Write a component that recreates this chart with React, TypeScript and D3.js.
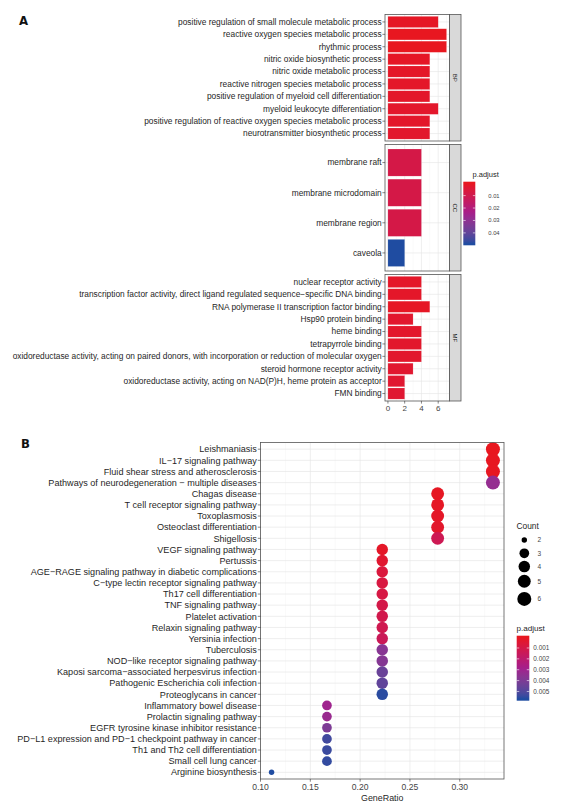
import React from "react";
import * as d3 from "d3";

// ---------------- Panel A data (GO enrichment, bar chart) ----------------
const bpTerms = [
  "positive regulation of small molecule metabolic process",
  "reactive oxygen species metabolic process",
  "rhythmic process",
  "nitric oxide biosynthetic process",
  "nitric oxide metabolic process",
  "reactive nitrogen species metabolic process",
  "positive regulation of myeloid cell differentiation",
  "myeloid leukocyte differentiation",
  "positive regulation of reactive oxygen species metabolic process",
  "neurotransmitter biosynthetic process",
];
const bpCounts = [6, 7, 7, 5, 5, 5, 5, 6, 5, 5];
const bpPadj = [0.0012, 0.0003, 0.0001, 0.0014, 0.0016, 0.0018, 0.0021, 0.0024, 0.0023, 0.0026];

const ccTerms = ["membrane raft", "membrane microdomain", "membrane region", "caveola"];
const ccCounts = [4, 4, 4, 2];
const ccPadj = [0.0082, 0.0082, 0.0082, 0.0487];

const mfTerms = [
  "nuclear receptor activity",
  "transcription factor activity, direct ligand regulated sequence\u2212specific DNA binding",
  "RNA polymerase II transcription factor binding",
  "Hsp90 protein binding",
  "heme binding",
  "tetrapyrrole binding",
  "oxidoreductase activity, acting on paired donors, with incorporation or reduction of molecular oxygen",
  "steroid hormone receptor activity",
  "oxidoreductase activity, acting on NAD(P)H, heme protein as acceptor",
  "FMN binding",
];
const mfCounts = [4, 4, 5, 3, 4, 4, 4, 3, 2, 2];
const mfPadj = [0.0018, 0.0019, 0.0011, 0.0028, 0.0024, 0.0025, 0.0027, 0.0032, 0.0035, 0.0036];

const facetNames = ["BP", "CC", "MF"];
const aCountTicks = [0, 2, 4, 6];
const aPadjTicks = [0.01, 0.02, 0.03, 0.04];

// ---------------- Panel B data (KEGG enrichment, dot plot) ----------------
const keggTerms = [
  "Leishmaniasis",
  "IL\u221217 signaling pathway",
  "Fluid shear stress and atherosclerosis",
  "Pathways of neurodegeneration \u2212 multiple diseases",
  "Chagas disease",
  "T cell receptor signaling pathway",
  "Toxoplasmosis",
  "Osteoclast differentiation",
  "Shigellosis",
  "VEGF signaling pathway",
  "Pertussis",
  "AGE\u2212RAGE signaling pathway in diabetic complications",
  "C\u2212type lectin receptor signaling pathway",
  "Th17 cell differentiation",
  "TNF signaling pathway",
  "Platelet activation",
  "Relaxin signaling pathway",
  "Yersinia infection",
  "Tuberculosis",
  "NOD\u2212like receptor signaling pathway",
  "Kaposi sarcoma\u2212associated herpesvirus infection",
  "Pathogenic Escherichia coli infection",
  "Proteoglycans in cancer",
  "Inflammatory bowel disease",
  "Prolactin signaling pathway",
  "EGFR tyrosine kinase inhibitor resistance",
  "PD\u2212L1 expression and PD\u22121 checkpoint pathway in cancer",
  "Th1 and Th2 cell differentiation",
  "Small cell lung cancer",
  "Arginine biosynthesis",
];
const keggRatio = [
  0.3333, 0.3333, 0.3333, 0.3333,
  0.2778, 0.2778, 0.2778, 0.2778, 0.2778,
  0.2222, 0.2222, 0.2222, 0.2222, 0.2222, 0.2222, 0.2222, 0.2222, 0.2222, 0.2222, 0.2222, 0.2222, 0.2222, 0.2222,
  0.1667, 0.1667, 0.1667, 0.1667, 0.1667, 0.1667,
  0.1111,
];
const keggCounts = [6, 6, 6, 6, 5, 5, 5, 5, 5, 4, 4, 4, 4, 4, 4, 4, 4, 4, 4, 4, 4, 4, 4, 3, 3, 3, 3, 3, 3, 2];
const keggPadj = [
  0.00002, 0.00005, 0.00008, 0.0033,
  0.0001, 0.00015, 0.0002, 0.0003, 0.0013,
  0.0002, 0.0004, 0.0007, 0.0008, 0.0009, 0.001, 0.0011, 0.0012, 0.0014, 0.0037, 0.0038, 0.0045, 0.0047, 0.0056,
  0.003, 0.0032, 0.004, 0.0053, 0.0054, 0.0055,
  0.0057,
];
const bRatioTicks = [0.1, 0.15, 0.2, 0.25, 0.3];
const bRatioMinor = [0.125, 0.175, 0.225, 0.275, 0.325];
const bCountLevels = [2, 3, 4, 5, 6];
const bPadjTicks = [0.001, 0.002, 0.003, 0.004, 0.005];

// ---------------- styling ----------------
const FONT = "'Liberation Sans', Arial, Helvetica, sans-serif";
const RED = "#E8171F";
const MID = "#A41E8D";
const BLUE = "#1F4CA1";
const GRID = "#E4E4E4";
const GRID_MINOR = "#F1F1F1";
const BORDER = "#555555";
const TEXT = "#1F1F1F";

function colorScale(lo: number, hi: number) {
  return d3
    .scaleLinear<string>()
    .domain([lo, (lo + hi) / 2, hi])
    .range([RED, MID, BLUE])
    .interpolate(d3.interpolateLab);
}

// ggplot-like colourbar (nbin = 20)
function ColorBar(props: {
  id: string; x: number; y: number; w: number; h: number;
  lo: number; hi: number; ticks: number[]; fmt: (v: number) => string;
  labelX: number; fontSize: number; titleSize: number; title: string; titleX: number; titleY: number;
}) {
  const { id, x, y, w, h, lo, hi, ticks, fmt, labelX, fontSize, titleSize, title, titleX, titleY } = props;
  const col = colorScale(lo, hi);
  const nbin = 20;
  const stops = d3.range(nbin).map((i) => ({ off: (i + 0.5) / nbin, c: col(lo + (i / (nbin - 1)) * (hi - lo)) }));
  const pos = (v: number) => y + ((0.5 + ((nbin - 1) * (v - lo)) / (hi - lo)) / nbin) * h;
  return (
    <g>
      <defs>
        <linearGradient id={id} x1="0" y1="0" x2="0" y2="1">
          {stops.map((s, i) => (
            <stop key={i} offset={s.off} stopColor={s.c} />
          ))}
        </linearGradient>
      </defs>
      <text x={titleX} y={titleY} fontSize={titleSize} fill={TEXT} fontFamily={FONT}>{title}</text>
      <rect x={x} y={y} width={w} height={h} fill={`url(#${id})`} />
      {ticks.map((t) => (
        <g key={t}>
          <line x1={x} x2={x + w * 0.2} y1={pos(t)} y2={pos(t)} stroke="#fff" strokeWidth={0.6} />
          <line x1={x + w * 0.8} x2={x + w} y1={pos(t)} y2={pos(t)} stroke="#fff" strokeWidth={0.6} />
          <text x={labelX} y={pos(t)} dy="0.35em" fontSize={fontSize} fill="#444" fontFamily={FONT}>{fmt(t)}</text>
        </g>
      ))}
    </g>
  );
}

function PanelA() {
  const facets = [
    { terms: bpTerms, counts: bpCounts, p: bpPadj },
    { terms: ccTerms, counts: ccCounts, p: ccPadj },
    { terms: mfTerms, counts: mfCounts, p: mfPadj },
  ];
  const allP = [...bpPadj, ...ccPadj, ...mfPadj];
  const lo = d3.min(allP)!;
  const hi = d3.max(allP)!;
  const col = colorScale(lo, hi);
  const maxCount = d3.max([...bpCounts, ...ccCounts, ...mfCounts])!;
  const left = 385;
  const right = 449.5;
  const pad = maxCount * 0.05;
  const x = d3.scaleLinear().domain([-pad, maxCount + pad]).range([left, right]);
  const top = 14.5;
  const panelH = 126.5;
  const gap = 3.5;
  const stripW = 11.5;
  const fs = 8.35;
  const minorTicks = d3.range(1, maxCount + 1, 2);

  return (
    <g>
      <text x={19} y={25} fontSize={13} fontWeight="bold" fontFamily="'Liberation Sans Narrow', 'DejaVu Sans Condensed', Arial, sans-serif" fill="#111">A</text>
      {facets.map((f, fi) => {
        const y0 = top + fi * (panelH + gap);
        const y1 = y0 + panelH;
        const y = d3.scalePoint<string>().domain(f.terms).range([y0, y1]).padding(0.6);
        const bw = y.step() * 0.9;
        return (
          <g key={fi}>
            <rect x={left} y={y0} width={right - left} height={panelH} fill="#fff" />
            {minorTicks.map((t) => (
              <line key={"m" + t} x1={x(t)} x2={x(t)} y1={y0} y2={y1} stroke={GRID_MINOR} strokeWidth={0.4} />
            ))}
            {aCountTicks.map((t) => (
              <line key={"g" + t} x1={x(t)} x2={x(t)} y1={y0} y2={y1} stroke={GRID} strokeWidth={0.6} />
            ))}
            {f.terms.map((t) => (
              <line key={"h" + t} x1={left} x2={right} y1={y(t)!} y2={y(t)!} stroke={GRID} strokeWidth={0.6} />
            ))}
            {f.terms.map((t, i) => (
              <rect key={"b" + t} x={x(0)} y={y(t)! - bw / 2} width={x(f.counts[i]) - x(0)} height={bw} fill={col(f.p[i])} stroke="#fff" strokeOpacity={0.35} strokeWidth={0.4} />
            ))}
            <rect x={left} y={y0} width={right - left} height={panelH} fill="none" stroke={BORDER} strokeWidth={0.8} />
            {f.terms.map((t) => (
              <g key={"l" + t}>
                <line x1={left - 2.6} x2={left} y1={y(t)!} y2={y(t)!} stroke="#333" strokeWidth={0.6} />
                <text x={left - 3.3} y={y(t)!} dy="0.35em" textAnchor="end" fontSize={fs} fill={TEXT} fontFamily={FONT}>{t}</text>
              </g>
            ))}
            <rect x={right} y={y0} width={stripW} height={panelH} fill="#D9D9D9" stroke={BORDER} strokeWidth={0.8} />
            <text
              transform={`translate(${right + stripW / 2},${(y0 + y1) / 2}) rotate(90)`}
              textAnchor="middle"
              dy="0.35em"
              fontSize={6}
              fill="#222"
              fontFamily={FONT}
            >
              {facetNames[fi]}
            </text>
          </g>
        );
      })}
      {aCountTicks.map((t) => {
        const yb = top + 3 * panelH + 2 * gap;
        return (
          <g key={"xt" + t}>
            <line x1={x(t)} x2={x(t)} y1={yb} y2={yb + 2.6} stroke="#333" strokeWidth={0.6} />
            <text x={x(t)} y={yb + 9.8} textAnchor="middle" fontSize={8} fill="#444" fontFamily={FONT}>{t}</text>
          </g>
        );
      })}
      <ColorBar
        id="gradA" x={463.3} y={181.7} w={12} h={63.6} lo={lo} hi={hi} ticks={aPadjTicks}
        fmt={(v) => d3.format(".2f")(v)} labelX={488.3} fontSize={5.8} titleSize={7.5} title="p.adjust" titleX={472.5} titleY={177}
      />
    </g>
  );
}

function PanelB() {
  const left = 260.5;
  const right = 504;
  const top = 442.5;
  const bottom = 779;
  const rMin = d3.min(keggRatio)!;
  const rMax = d3.max(keggRatio)!;
  const ex = (rMax - rMin) * 0.05;
  const x = d3.scaleLinear().domain([rMin - ex, rMax + ex]).range([left, right]);
  const y = d3.scalePoint<string>().domain(keggTerms).range([top, bottom]).padding(0.6);
  const lo = d3.min(keggPadj)!;
  const hi = d3.max(keggPadj)!;
  const col = colorScale(lo, hi);
  const cMin = d3.min(keggCounts)!;
  const cMax = d3.max(keggCounts)!;
  const sizeT = d3.scaleLinear().domain([cMin, cMax]).range([0, 1]);
  const rad = (c: number) => 2.7 + 4.3 * Math.sqrt(sizeT(c));
  const fs = 9.1;

  // count legend layout
  const keyH = (c: number) => Math.max(13.3, 0.39 * rad(c) * rad(c));
  let acc = 533.35;
  const keys = bCountLevels.map((c) => {
    const h = keyH(c);
    const cy = acc + h / 2;
    acc += h;
    return { c, cy };
  });

  return (
    <g>
      <text x={21} y={448} fontSize={13} fontWeight="bold" fontFamily="'Liberation Sans Narrow', 'DejaVu Sans Condensed', Arial, sans-serif" fill="#111">B</text>
      <rect x={left} y={top} width={right - left} height={bottom - top} fill="#fff" />
      {bRatioMinor.map((t) => (
        <line key={"m" + t} x1={x(t)} x2={x(t)} y1={top} y2={bottom} stroke={GRID_MINOR} strokeWidth={0.45} />
      ))}
      {bRatioTicks.map((t) => (
        <line key={"g" + t} x1={x(t)} x2={x(t)} y1={top} y2={bottom} stroke={GRID} strokeWidth={0.65} />
      ))}
      {keggTerms.map((t) => (
        <line key={"h" + t} x1={left} x2={right} y1={y(t)!} y2={y(t)!} stroke={GRID} strokeWidth={0.65} />
      ))}
      {keggTerms.map((t, i) => (
        <circle key={"c" + t} cx={x(keggRatio[i])} cy={y(t)!} r={rad(keggCounts[i])} fill={col(keggPadj[i])} />
      ))}
      <rect x={left} y={top} width={right - left} height={bottom - top} fill="none" stroke={BORDER} strokeWidth={0.8} />
      {keggTerms.map((t) => (
        <g key={"l" + t}>
          <line x1={left - 2.7} x2={left} y1={y(t)!} y2={y(t)!} stroke="#333" strokeWidth={0.6} />
          <text x={left - 3.6} y={y(t)!} dy="0.35em" textAnchor="end" fontSize={fs} fill={TEXT} fontFamily={FONT}>{t}</text>
        </g>
      ))}
      {bRatioTicks.map((t) => (
        <g key={"xt" + t}>
          <line x1={x(t)} x2={x(t)} y1={bottom} y2={bottom + 2.7} stroke="#333" strokeWidth={0.6} />
          <text x={x(t)} y={bottom + 11.3} textAnchor="middle" fontSize={8.6} fill="#444" fontFamily={FONT}>{d3.format(".2f")(t)}</text>
        </g>
      ))}
      <text x={(left + right) / 2} y={801} textAnchor="middle" fontSize={8.9} fill={TEXT} fontFamily={FONT}>GeneRatio</text>

      <text x={516.5} y={529} fontSize={8.4} fill={TEXT} fontFamily={FONT}>Count</text>
      {keys.map((k) => (
        <g key={"k" + k.c}>
          <circle cx={524.3} cy={k.cy} r={rad(k.c)} fill="#000" />
          <text x={537.5} y={k.cy} dy="0.35em" fontSize={6.5} fill="#444" fontFamily={FONT}>{k.c}</text>
        </g>
      ))}
      <ColorBar
        id="gradB" x={516.7} y={635.7} w={12.6} h={65} lo={lo} hi={hi} ticks={bPadjTicks}
        fmt={(v) => d3.format(".3f")(v)} labelX={533.3} fontSize={6.4} titleSize={8.1} title="p.adjust" titleX={516.5} titleY={631}
      />
    </g>
  );
}

export default function App() {
  return (
    <svg
      width={564}
      height={808}
      viewBox="0 0 564 808"
      style={{ position: "absolute", left: 0, top: 0, background: "#fff" }}
    >
      <rect x={0} y={0} width={564} height={808} fill="#fff" />
      <PanelA />
      <PanelB />
    </svg>
  );
}
